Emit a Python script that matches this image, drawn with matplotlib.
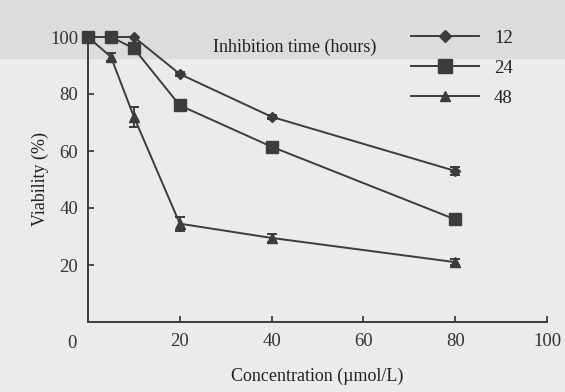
import matplotlib.pyplot as plt
from matplotlib.lines import Line2D
from matplotlib.patches import Rectangle

# concentration (umol/L) and viability (%) per inhibition time
conc = [0, 5, 10, 20, 40, 80]
h12 = [100, 100, 100, 87, 72, 53]
h24 = [100, 100, 96, 76, 61.5, 36]
h48 = [100, 93, 72, 34.5, 29.5, 21]
err12 = [0, 0, 0, 0.8, 0.8, 1.5]
err24 = [0, 0, 1, 1, 1, 1]
err48 = [0, 1.5, 3.5, 2.5, 1.5, 1]

x_ticks = [20, 40, 60, 80, 100]
y_ticks = [20, 40, 60, 80, 100]
series_labels = ["12", "24", "48"]

ink = "#3c3c3c"
plt.rcParams["font.family"] = ["Liberation Serif", "DejaVu Serif"]

fig = plt.figure(figsize=(5.65, 3.92), dpi=100, facecolor="#ebebeb")
# darker band at the top of the scan
fig.patches.append(Rectangle((0, 1 - 58 / 392), 1, 58 / 392, transform=fig.transFigure,
                             color="#dcdcdc", zorder=-5))

ax = fig.add_axes([88 / 565, 1 - 322 / 392, 459 / 565, 285 / 392])
ax.set_facecolor("none")

common = dict(color=ink, lw=1.4, capsize=3.5, elinewidth=1.4, capthick=1.4,
              markeredgecolor=ink, markerfacecolor=ink)
for ys, es, mk, ms, z in [(h48, err48, "^", 7, 3), (h12, err12, "D", 5.5, 4),
                          (h24, err24, "s", 8.5, 5)]:
    cont = ax.errorbar(conc, ys, yerr=es, marker=mk, ms=ms, zorder=z, **common)
    for art in cont.get_children():
        art.set_clip_on(False)

ax.set_xlim(0, 100)
ax.set_ylim(0, 100)
ax.set_xticks(x_ticks)
ax.set_yticks(y_ticks)
ax.tick_params(direction="in", length=4, width=1.3, color=ink, labelsize=13.5,
               labelcolor="#333333", pad=8)
ax.tick_params(axis="y", pad=7)

for side in ["top", "right"]:
    ax.spines[side].set_visible(False)
for side in ["left", "bottom"]:
    ax.spines[side].set_color(ink)
    ax.spines[side].set_linewidth(1.4)

ax.text(-3.5, -4.4, "0", ha="center", va="top", fontsize=13.5, color="#333333",
        transform=ax.transData, clip_on=False)

ax.set_xlabel("Concentration (\u00b5mol/L)", fontsize=13, color="#222222", labelpad=13)
ax.set_ylabel("Viability (%)", fontsize=13, color="#222222", labelpad=1)

handles = [
    Line2D([], [], color=ink, lw=1.4, marker="D", ms=6),
    Line2D([], [], color=ink, lw=1.4, marker="s", ms=9.5),
    Line2D([], [], color=ink, lw=1.4, marker="^", ms=7.5),
]
leg = ax.legend(handles, series_labels, loc="upper left", bbox_to_anchor=(0.668, 1.085),
                frameon=False, handlelength=3.6, handletextpad=0.8, labelspacing=0.68,
                fontsize=13.5, numpoints=1)
for t in leg.get_texts():
    t.set_color("#222222")

ax.text(0.45, 0.965, "Inhibition time (hours)", transform=ax.transAxes, ha="center",
        va="center", fontsize=13, color="#222222")

fig.savefig("out.png", dpi=100, facecolor=fig.get_facecolor())
